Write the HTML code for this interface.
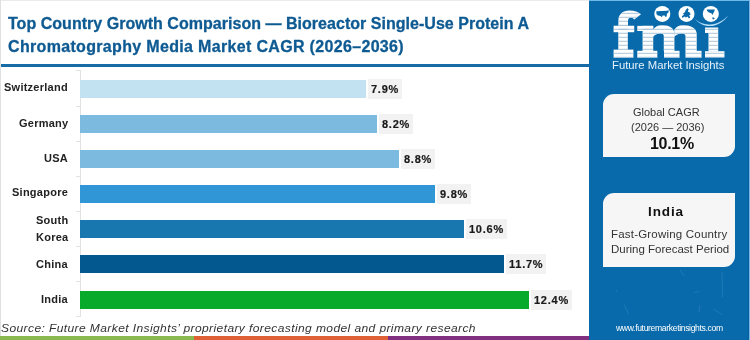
<!DOCTYPE html>
<html><head><meta charset="utf-8">
<style>
*{margin:0;padding:0;box-sizing:border-box;}
html,body{width:750px;height:340px;overflow:hidden;background:#fff;}
body{position:relative;font-family:"Liberation Sans",sans-serif;}
.abs{position:absolute;white-space:nowrap;will-change:transform;}
.title{left:8px;color:#0e5a92;font-weight:bold;font-size:16px;line-height:16px;-webkit-text-stroke:0.3px #0e5a92;}
.sep{left:0;top:64px;width:589px;height:3px;background:#176ba6;}
.axis{left:80px;top:70px;width:1px;height:247px;background:#e2e2e2;}
.tick{left:76px;width:4px;height:1px;background:#e2e2e2;}
.lbl{right:682px;color:#222;font-weight:bold;font-size:11px;line-height:13px;text-align:right;letter-spacing:0.25px}
.bar{left:80px;height:18px;}
.val{height:20px;background:#f2f2f2;color:#1a1a1a;font-weight:bold;font-size:11px;line-height:20px;padding:0 3px;letter-spacing:0.75px;-webkit-text-stroke:0.2px #1a1a1a;}
.panel{left:589px;top:0;width:161px;height:340px;background:#086aab;}
.box{background:#f6f6f6;border-radius:11px 0 11px 0;}
.strip{top:336px;height:4px;}
</style></head><body>
<div class="abs title" style="top:16px;letter-spacing:0.03px">Top Country Growth Comparison — Bioreactor Single-Use Protein A</div>
<div class="abs title" style="top:39px;letter-spacing:0.33px">Chromatography Media Market CAGR (2026–2036)</div>
<div class="abs sep"></div>

<div class="abs axis"></div>
<div class="abs tick" style="top:70px"></div>
<div class="abs tick" style="top:106px"></div>
<div class="abs tick" style="top:141px"></div>
<div class="abs tick" style="top:176px"></div>
<div class="abs tick" style="top:211px"></div>
<div class="abs tick" style="top:246px"></div>
<div class="abs tick" style="top:281px"></div>
<div class="abs tick" style="top:316px"></div>

<div class="abs lbl" style="top:81px">Switzerland</div>
<div class="abs lbl" style="top:117px">Germany</div>
<div class="abs lbl" style="top:152px">USA</div>
<div class="abs lbl" style="top:186px">Singapore</div>
<div class="abs lbl" style="top:212px;line-height:16.5px">South<br>Korea</div>
<div class="abs lbl" style="top:258px">China</div>
<div class="abs lbl" style="top:293px">India</div>

<div class="abs bar" style="top:80px;width:286px;background:#c3e2f1"></div>
<div class="abs bar" style="top:115px;width:297px;background:#7dbae0"></div>
<div class="abs bar" style="top:150px;width:319px;background:#7dbae0"></div>
<div class="abs bar" style="top:185px;width:355px;background:#3096d6"></div>
<div class="abs bar" style="top:220px;width:384px;background:#1877ae"></div>
<div class="abs bar" style="top:255px;width:424px;background:#03598f"></div>
<div class="abs bar" style="top:291px;width:449px;background:#08aa2c"></div>

<div class="abs val" style="top:79px;left:368px">7.9%</div>
<div class="abs val" style="top:114px;left:379px">8.2%</div>
<div class="abs val" style="top:149px;left:401px">8.8%</div>
<div class="abs val" style="top:184px;left:437px">9.8%</div>
<div class="abs val" style="top:219px;left:466px">10.6%</div>
<div class="abs val" style="top:254px;left:506px">11.7%</div>
<div class="abs val" style="top:290px;left:531px">12.4%</div>

<div class="abs" id="src" style="left:1px;top:322px;font-style:italic;font-size:10.8px;line-height:13px;color:#333;letter-spacing:0.35px;transform:scaleX(1.115);transform-origin:0 0">Source: Future Market Insights’ proprietary forecasting model and primary research</div>

<div class="abs strip" style="left:0;width:194px;background:#8aba4f"></div>
<div class="abs strip" style="left:194px;width:194px;background:#df6034"></div>
<div class="abs strip" style="left:388px;width:201px;background:#80307f"></div>

<div class="abs panel"></div>

<svg class="abs" style="left:0;top:0" width="750" height="80" viewBox="0 0 750 80">
<defs>
<pattern id="st" patternUnits="userSpaceOnUse" x="0" y="1.8" width="10" height="4"><rect x="0" y="3" width="10" height="1" fill="#a9c3d8"/></pattern>
</defs>
<g fill="#fff">
<path d="M618.4,26 L618.4,20.5 C618.4,14.2 622.5,10.4 629.5,10.4 C634.5,10.4 638.5,11.8 641,14.2 L634.2,19.6 C633.3,18.3 632.2,17.4 631,17.4 C629,17.4 628,18.8 628,21 L628,26 Z"/>
<rect x="613.6" y="25.8" width="20.6" height="6.4"/>
<rect x="618.3" y="25" width="9.5" height="26"/>
<rect x="613.6" y="49.7" width="19.8" height="7.9"/>
<rect x="637.3" y="25.9" width="15.9" height="5.1"/>
<rect x="642.6" y="25.9" width="10.6" height="25.5"/>
<path d="M653,30 C655,26.5 658,25.3 662,25.3 C670,25.3 674.4,28.5 674.4,34 L674.4,51 L663.8,51 L663.8,36 C663.8,34.5 662.5,33.5 660.5,33.5 C657,33.5 654.5,35 653,37 Z"/>
<path d="M674.2,30 C676.2,26.5 679.2,25.3 683.2,25.3 C691.2,25.3 696.7,28.5 696.7,34 L696.7,51 L685.5,51 L685.5,36 C685.5,34.5 684,33.5 682,33.5 C678.5,33.5 676,35 674.2,37 Z"/>
<rect x="637.3" y="50.8" width="20" height="6.8"/>
<rect x="664" y="50.8" width="15.5" height="6.8"/>
<rect x="685.5" y="50.8" width="16" height="6.8"/>
<path d="M705,27.4 L718.2,27.4 L718.2,51.5 L708.5,51.5 L708.5,33 L705,33 Z"/>
<rect x="705" y="51.2" width="19.4" height="6.2"/>
</g><g fill="url(#st)">
<path d="M618.4,26 L618.4,20.5 C618.4,14.2 622.5,10.4 629.5,10.4 C634.5,10.4 638.5,11.8 641,14.2 L634.2,19.6 C633.3,18.3 632.2,17.4 631,17.4 C629,17.4 628,18.8 628,21 L628,26 Z"/>
<rect x="613.6" y="25.8" width="20.6" height="6.4"/>
<rect x="618.3" y="25" width="9.5" height="26"/>
<rect x="613.6" y="49.7" width="19.8" height="7.9"/>
<rect x="637.3" y="25.9" width="15.9" height="5.1"/>
<rect x="642.6" y="25.9" width="10.6" height="25.5"/>
<path d="M653,30 C655,26.5 658,25.3 662,25.3 C670,25.3 674.4,28.5 674.4,34 L674.4,51 L663.8,51 L663.8,36 C663.8,34.5 662.5,33.5 660.5,33.5 C657,33.5 654.5,35 653,37 Z"/>
<path d="M674.2,30 C676.2,26.5 679.2,25.3 683.2,25.3 C691.2,25.3 696.7,28.5 696.7,34 L696.7,51 L685.5,51 L685.5,36 C685.5,34.5 684,33.5 682,33.5 C678.5,33.5 676,35 674.2,37 Z"/>
<rect x="637.3" y="50.8" width="20" height="6.8"/>
<rect x="664" y="50.8" width="15.5" height="6.8"/>
<rect x="685.5" y="50.8" width="16" height="6.8"/>
<path d="M705,27.4 L718.2,27.4 L718.2,51.5 L708.5,51.5 L708.5,33 L705,33 Z"/>
<rect x="705" y="51.2" width="19.4" height="6.2"/>
</g>
<circle cx="662.3" cy="13.9" r="8" fill="#fff"/>
<circle cx="686.5" cy="13.9" r="8" fill="#fff"/>
<circle cx="710.8" cy="13.9" r="8" fill="#fff"/>
<path d="M656.3,11.3 L662,10.9 L667,10.8 L668.8,10.2 L668.6,12.2 L667,13.8 L666.6,16.6 L665.6,17.1 L664.6,15.4 L662.6,15.5 L661.9,17.2 L660.5,15.9 L658,15.4 L656.5,14.2 Z" fill="#086aab"/>
<path d="M687.5,8 L688.7,9.5 L687.8,11.5 L689.7,12.5 L690.7,14.2 L689.2,15.3 L690.2,17.5 L688.9,18.6 L687.5,16.6 L686,17.6 L684.5,16.6 L682.5,17.9 L681.9,16.3 L683.9,14.8 L683.1,13.3 L684.9,12.2 L685.7,10 Z" fill="#086aab"/>
<path d="M706.8,9.4 L714.9,9.4 L714.2,11.6 L712.4,14.9 L711.4,13.3 L709,12.6 L707.2,11.1 Z M712.6,17 L714.8,18.2 L713.6,19.6 L712.4,18.9 Z" fill="#086aab"/>
<path d="M694.8,18.6 C699,23.2 704,24.6 710,24.4 C717,24.1 723.5,20.6 728.2,15.4 C724,21.6 717.5,25.9 710,26.1 C703.5,26.2 698.5,23.6 694.8,18.6 Z" fill="#b5ddf7"/>
</svg>
<div class="abs" id="fmit" style="left:612px;top:59px;color:#e6f1fa;font-size:11.3px;line-height:13px;letter-spacing:0px">Future Market Insights</div>

<div class="abs box" style="left:602.5px;top:93.5px;width:131.5px;height:63px"></div>
<div class="abs" id="gc" style="left:633px;top:105.6px;color:#333;font-size:11px;line-height:13px">Global CAGR</div>
<div class="abs" id="g26" style="left:631px;top:120.7px;color:#333;font-size:11px;line-height:13px">(2026 — 2036)</div>
<div class="abs" id="g101" style="left:650px;top:134.6px;color:#111;font-weight:bold;font-size:16px;line-height:17px;letter-spacing:-0.3px">10.1%</div>

<div class="abs box" style="left:603px;top:192.7px;width:131.5px;height:73.8px"></div>
<div class="abs" id="ind" style="left:648px;top:204px;color:#111;font-weight:bold;font-size:13.5px;line-height:15px;letter-spacing:0.9px">India</div>
<div class="abs" id="fg" style="left:611px;top:227px;color:#333;font-size:11.5px;line-height:15px;letter-spacing:0.2px">Fast-Growing Country</div>
<div class="abs" id="dfp" style="left:611px;top:242px;color:#333;font-size:11.5px;line-height:15px">During Forecast Period</div>

<div class="abs" id="www" style="left:616px;top:322.5px;color:#fff;font-size:8.6px;line-height:10px;letter-spacing:-0.35px">www.futuremarketinsights.com</div>

<svg class="abs" style="left:0;top:0" width="750" height="340" viewBox="0 0 750 340">
<g stroke="#9fd0f0" stroke-width="0.8" opacity="0.2" fill="none">
<path d="M722,272 L722.5,297"/><path d="M624.4,304.7 L628.7,314.4"/><path d="M713.5,309 L722,314.4"/><path d="M694,292.5 L699.5,291.5"/>
<path d="M680,270 L684,276"/><path d="M616,290 L617,292"/><path d="M700,305 L699,312"/>
</g>
</svg>
<div class="abs" style="left:0;top:0;width:589px;height:1px;background:#ebebeb"></div>
<div class="abs" style="left:589px;top:0;width:161px;height:1px;background:#72b8e5"></div>
<div class="abs" style="left:0;top:0;width:1px;height:336px;background:#e0e0e0"></div>
<div class="abs" style="left:748px;top:1px;width:1px;height:339px;background:#0a609c"></div>
<div class="abs" style="left:749px;top:0;width:1px;height:340px;background:#74b9e6"></div>
</body></html>
